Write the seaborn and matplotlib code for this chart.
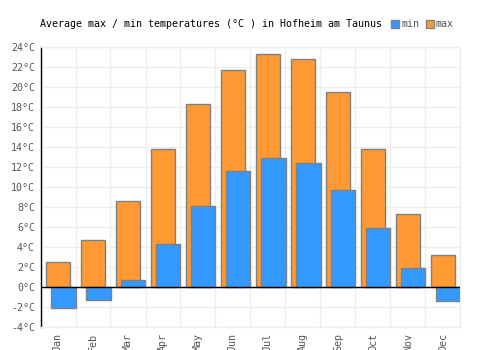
#!/usr/bin/env python3
"""
Average max / min temperatures chart for Hofheim am Taunus
"""

import matplotlib
matplotlib.use("Agg")
import matplotlib.pyplot as plt
from matplotlib.patches import Patch
import seaborn as sns

months = ["Jan", "Feb", "Mar", "Apr", "May", "Jun",
          "Jul", "Aug", "Sep", "Oct", "Nov", "Dec"]
max_temps = [2.5, 4.7, 8.6, 13.8, 18.3, 21.7, 23.3, 22.8, 19.5, 13.8, 7.3, 3.2]
min_temps = [-2.1, -1.3, 0.7, 4.3, 8.1, 11.6, 12.9, 12.4, 9.7, 5.9, 1.9, -1.4]
y_ticks = list(range(-4, 25, 2))

MAX_COLOR = "#ff9933"
MIN_COLOR = "#3399ff"
EDGE = "#808080"
GRID = "#eeeeee"
TEXT = "#555555"
FS = 7.2

sns.set_style("white")
plt.rcParams["font.family"] = ["DejaVu Sans Mono", "DejaVu Sans"]

fig = plt.figure(figsize=(5, 3.5), dpi=100)
ax = fig.add_axes([0.081, 0.066, 0.84, 0.8])

# max bars first, min bars drawn on top and shifted right
sns.barplot(x=months, y=max_temps, color=MAX_COLOR, saturation=1, width=0.66,
            edgecolor=EDGE, linewidth=1, ax=ax, zorder=2)
n_max = len(ax.patches)
sns.barplot(x=months, y=min_temps, color=MIN_COLOR, saturation=1, width=0.7,
            edgecolor=EDGE, linewidth=1, ax=ax, zorder=3)
for p in ax.patches[n_max:]:
    p.set_x(p.get_x() + 0.15)

ax.set_xlim(-0.5, 11.5)
ax.set_ylim(-4, 24)
ax.set_yticks(y_ticks)
ax.set_yticklabels([f"{v}°C" for v in y_ticks], color=TEXT, fontsize=FS)
ax.set_xticks(range(len(months)))
ax.set_xticklabels(months, rotation=90, color=TEXT, fontsize=FS, va="top")
ax.set_xticks([i - 0.5 for i in range(len(months) + 1)], minor=True)
ax.tick_params(axis="both", which="both", length=0)
ax.tick_params(axis="x", pad=4.5)
ax.tick_params(axis="y", pad=4)
ax.set_xlabel("")
ax.set_ylabel("")

ax.grid(False)
ax.yaxis.grid(True, color=GRID, linewidth=1, zorder=0)
ax.xaxis.grid(True, which="minor", color=GRID, linewidth=1, zorder=0)
ax.set_axisbelow(True)
ax.axhline(0, color="black", linewidth=1, zorder=4)

for side in ["top", "right", "bottom"]:
    ax.spines[side].set_color(GRID)
    ax.spines[side].set_linewidth(1)
ax.spines["left"].set_color("black")
ax.spines["left"].set_linewidth(1)

fig.text(0.081, 0.931, "Average max / min temperatures (°C ) in Hofheim am Taunus",
         fontsize=FS, color="black", va="center", ha="left")

handles = [Patch(facecolor=MIN_COLOR, edgecolor=EDGE, label="min"),
           Patch(facecolor=MAX_COLOR, edgecolor=EDGE, label="max")]
leg = fig.legend(handles=handles, loc="center left", bbox_to_anchor=(0.782, 0.931),
                 ncol=2, frameon=False, fontsize=FS, handlelength=0.8,
                 handleheight=0.8, handletextpad=0.25, columnspacing=0.6,
                 borderpad=0, borderaxespad=0)
for t in leg.get_texts():
    t.set_color(TEXT)

plt.savefig("out.png", dpi=100)
plt.close()
